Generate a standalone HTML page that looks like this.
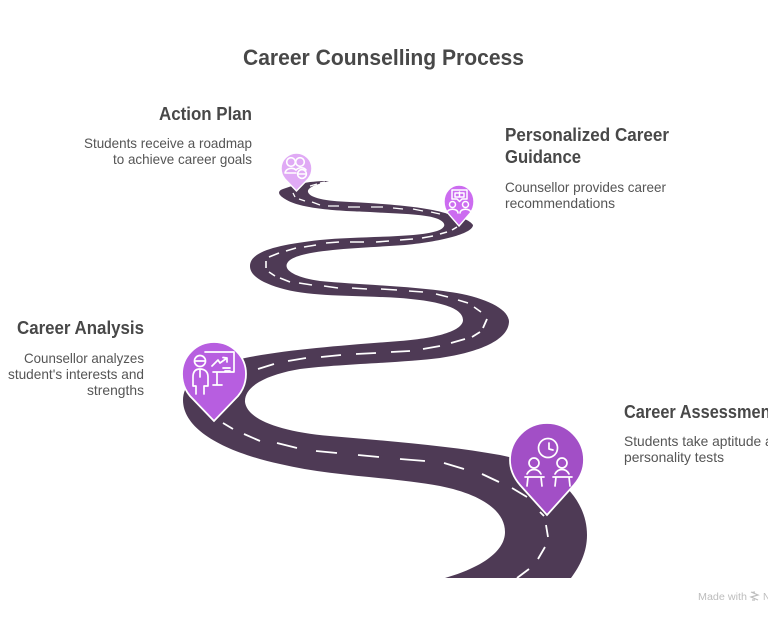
<!DOCTYPE html>
<html><head><meta charset="utf-8">
<style>
html,body{margin:0;padding:0;background:#fff;width:768px;height:622px;overflow:hidden}
svg{display:block}
text{font-family:"Liberation Sans",sans-serif}
.h{font-size:18px;font-weight:bold;fill:#484848}
.d{font-size:14px;fill:#555}
.i{fill:none;stroke:#fff;stroke-linecap:round;stroke-linejoin:round}
</style></head><body>
<svg width="768" height="622" viewBox="0 0 768 622" xmlns="http://www.w3.org/2000/svg">
<rect width="768" height="622" fill="#fff"/>
<text x="243" y="65" font-size="22" font-weight="bold" fill="#484848" textLength="281" lengthAdjust="spacingAndGlyphs">Career Counselling Process</text>

<path fill="#4E3A55" d="M329,181 C318,184 307,187 308,192 C310,198 325,201 350,202 C390,204 425,207 445,213 C460,217 470,220 473,225 C473,233 445,241 405,245 C365,248 305,249 290,260 C280,268 292,277 320,281 C360,285 420,286 462,294 C490,300 509,310 509,322 C508,340 480,352 440,358 C400,363 340,364 300,369 C270,374 244,385 245,402 C247,418 275,431 330,436 C390,441 450,446 500,455 C555,466 587,498 587,535 C587,552 580,566 571,578 L445,578 C480,568 505,552 505,532 C505,510 480,494 440,486 C390,477 330,476 280,464 C225,452 183,430 183,400 C183,378 210,365 245,358 C290,349 350,345 400,341 C440,338 463,330 463,320 C463,308 440,301 400,298 C350,295 310,297 280,288 C260,282 250,275 250,266 C250,252 275,245 320,240 C360,236 415,238 437,231 C445,228 447,224 440,220 C430,214 400,214 370,212 C340,211 300,209 285,199 C278,195 277,191 283,189 C295,185 305,181 329,181 Z"/>

<path fill="none" stroke="#fff" stroke-width="1.3" d="M310,186L317,184M320,183L325,182M293,193L295,197M299,199L305,201M312,202L320,205M328,206L339,206M348,207L360,207M371,207L383,207M393,208L403,209M413,209L423,211M431,212L440,214"/>
<path fill="none" stroke="#fff" stroke-width="1.6" d="M452,230L457,227M440,234L447,232M422,238L433,236M400,240L413,239M376,242L389,241M350,242L364,242M326,243L339,242M304,247L316,245M286,251L296,248M269,257L279,253M266,261L266,268M269,272L275,276M280,278L290,282M299,283L312,285M324,286L338,288M352,288L367,289M381,289L397,290M409,291L423,292M436,294L448,297M458,300L468,303M474,307L481,312"/>
<path fill="none" stroke="#fff" stroke-width="1.8" d="M487,319L483,328M480,332L472,337M465,339L451,343M440,346L423,349M410,351L391,352M376,353L356,354M341,355L321,357M306,358L288,361M274,364L258,369M223,423L233,429M244,434L260,441M277,443L297,448M316,451L337,453M358,455L379,457M400,459L425,461M444,463L464,469M482,474L499,482M512,488L527,497M540,512L544,516M546,525L548,537M545,547L538,559M529,569L517,578"/>

<!-- Pin 1 -->
<g transform="translate(281,153) scale(.484,.481)"><path fill="#E0AAF5" stroke="#fff" stroke-width="3" d="M32,79 L8,54 C3,48 0,40 0,32 A32,32 0 1 1 64,32 C64,40 61,48 56,54 Z"/></g>
<g class="i" stroke-width="1.6"><circle cx="291" cy="162" r="4.300"/><circle cx="300" cy="162" r="4.300"/><path d="M285,173 C286,168 293,167 296,170 C299,167 304,167 306,170 M285,173 H296"/><circle cx="302" cy="174" r="4.400" fill="#E0AAF5"/><path d="M298,174H306"/></g>

<!-- Pin 2 -->
<g transform="translate(444,185) scale(.469,.519)"><path fill="#CC6CF0" stroke="#fff" stroke-width="3" d="M32,79 L8,54 C3,48 0,40 0,32 A32,32 0 1 1 64,32 C64,40 61,48 56,54 Z"/></g>
<g class="i" stroke-width="1.500"><path d="M452,190H467V199H462L459.500,201.500L457,199H452ZM459.500,192V197M455,193H464V197H455Z"/><circle cx="452.500" cy="204.500" r="3"/><circle cx="465.500" cy="204.500" r="3"/><path d="M447,213C447,208 458,208 458,213M460,213C460,208 471,208 471,213"/></g>

<!-- Pin 3 -->
<path fill="#B75EE0" stroke="#fff" stroke-width="1.800" d="M214,421 L190,396 C185,390 182,382 182,374 A32,32 0 1 1 246,374 C246,382 243,390 238,396 Z"/>
<g class="i" stroke-width="1.700"><path d="M205,352H234V372H213M217,372V385M213,385H222M212,366L218,360L220,363L227,358M223,357.500L227,358L227,362M223,368H230M225,371H230"/><circle cx="200" cy="361" r="5.500"/><path d="M195,361H205M193,386V377C193,372 195,369 200,369C205,369 208,372 208,377V386H204V394M193,386H196V394M200,370V377"/></g>

<!-- Pin 4 -->
<path fill="#A24FC6" stroke="#fff" stroke-width="1.800" d="M547,515 L520,485 C514,478 510,470 510,460 A37,37 0 1 1 584,460 C584,470 580,478 574,485 Z"/>
<g class="i" stroke-width="1.700"><circle cx="548" cy="448" r="9.500"/><path d="M549,443V449L553,450"/><circle cx="534" cy="463" r="5"/><circle cx="562" cy="463" r="5"/><path d="M527,474C530,468 538,468 541,474M555,474C558,468 566,468 569,474M525,477H544M553,477H572M528,477L527,486M541,477L542,486M556,477L555,486M569,477L570,486"/></g>

<!-- Labels -->
<text class="h" x="159" y="120" textLength="93" lengthAdjust="spacingAndGlyphs">Action Plan</text>
<text class="d" x="84" y="148" textLength="168" lengthAdjust="spacingAndGlyphs">Students receive a roadmap</text>
<text class="d" x="113" y="164" textLength="139" lengthAdjust="spacingAndGlyphs">to achieve career goals</text>

<text class="h" x="505" y="141" textLength="164" lengthAdjust="spacingAndGlyphs">Personalized Career</text>
<text class="h" x="505" y="163" textLength="76" lengthAdjust="spacingAndGlyphs">Guidance</text>
<text class="d" x="505" y="192" textLength="161" lengthAdjust="spacingAndGlyphs">Counsellor provides career</text>
<text class="d" x="505" y="208" textLength="110" lengthAdjust="spacingAndGlyphs">recommendations</text>

<text class="h" x="17" y="334" textLength="127" lengthAdjust="spacingAndGlyphs">Career Analysis</text>
<text class="d" x="24" y="363" textLength="120" lengthAdjust="spacingAndGlyphs">Counsellor analyzes</text>
<text class="d" x="8" y="379" textLength="136" lengthAdjust="spacingAndGlyphs">student's interests and</text>
<text class="d" x="87" y="395" textLength="57" lengthAdjust="spacingAndGlyphs">strengths</text>

<text class="h" x="624" y="418" textLength="152" lengthAdjust="spacingAndGlyphs">Career Assessment</text>
<text class="d" x="624" y="446" textLength="164" lengthAdjust="spacingAndGlyphs">Students take aptitude and</text>
<text class="d" x="624" y="462" textLength="100" lengthAdjust="spacingAndGlyphs">personality tests</text>

<text x="698" y="600" font-size="10" fill="#bdbdbd" textLength="49" lengthAdjust="spacingAndGlyphs">Made with</text>
<path fill="none" stroke="#bdbdbd" stroke-width="1.200" d="M751,592L758,595L751,597L758,600M752,592.500L755,592M752,600L755,600"/>
<text x="763" y="600" font-size="10" fill="#bdbdbd">N</text>
</svg>
</body></html>
